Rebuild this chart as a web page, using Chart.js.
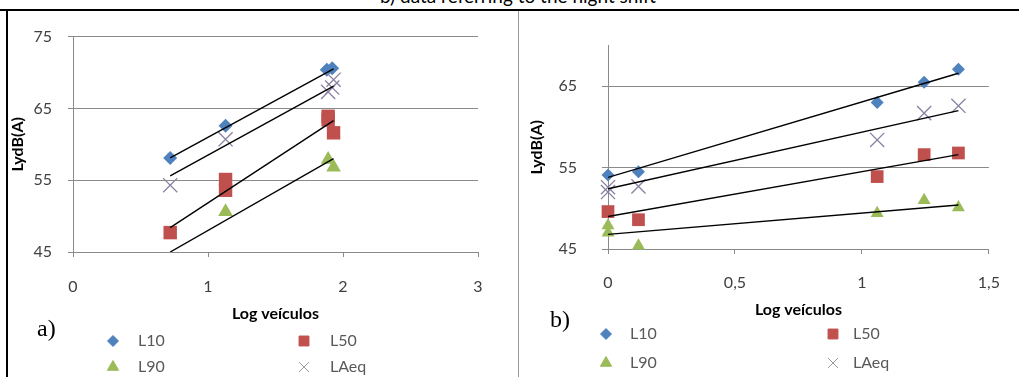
<!DOCTYPE html>
<html>
<head>
<meta charset="utf-8">
<script src="https://cdn.jsdelivr.net/npm/chart.js@4.4.0/dist/chart.umd.min.js"></script>
<style>
  body { margin: 0; background: #fff; width: 1019px; height: 377px; overflow: hidden; position: relative; font-family: Lato, sans-serif; }
  #topText { position: absolute; left: 0; width: 1036px; top: -16px; text-align: center; font-size: 19px; color: #000; font-family: Lato, sans-serif; }
  #topLine { position: absolute; left: 0; top: 9px; width: 1019px; height: 2px; background: #000; }
  #leftLine { position: absolute; left: 6px; top: 9px; width: 2px; height: 368px; background: #000; }
  #midLine { position: absolute; left: 518px; top: 11px; width: 1px; height: 366px; background: #9a9a9a; }
  canvas { position: absolute; top: 11px; }
  #chartA { left: 8px; }
  #chartB { left: 519px; }
</style>
</head>
<body>
<div id="topText">b) data referring to the night shift</div>
<div id="topLine"></div>
<div id="leftLine"></div>
<div id="midLine"></div>
<canvas id="chartA" width="510" height="366"></canvas>
<canvas id="chartB" width="500" height="366"></canvas>
<script>
// series names
const seriesNames = ['L10', 'L50', 'L90', 'LAeq'];

// ---- panel a) ----
const aL10X = [0.72, 1.13, 1.88, 1.92];
const aL10Y = [58.1, 62.6, 70.4, 70.6];
const aL50X = [0.72, 1.13, 1.13, 1.89, 1.89, 1.93];
const aL50Y = [47.7, 55.1, 53.6, 63.9, 63.4, 61.6];
const aL90X = [1.13, 1.89, 1.93];
const aL90Y = [50.6, 57.9, 56.8];
const aLeqX = [0.72, 1.13, 1.89, 1.92, 1.93];
const aLeqY = [54.3, 60.7, 67.3, 67.9, 69.0];
// trendline ends
const aTrendX = [0.72, 1.93];
const aTrendL10 = [58.1, 70.5];
const aTrendL50 = [48.4, 63.3];
const aTrendL90 = [45.0, 58.0];
const aTrendLeq = [55.6, 68.1];
const aXTicks = [0, 1, 2, 3];
const aYTicks = [45, 55, 65, 75];

// ---- panel b) ----
const bL10X = [0, 0.12, 1.06, 1.245, 1.38];
const bL10Y = [54.1, 54.5, 63.0, 65.5, 67.1];
const bL50X = [0, 0.12, 1.06, 1.245, 1.38];
const bL50Y = [49.6, 48.6, 53.9, 56.6, 56.8];
const bL90X = [0, 0, 0.12, 1.06, 1.245, 1.38];
const bL90Y = [47.9, 47.0, 45.4, 49.4, 51.0, 50.1];
const bLeqX = [0, 0, 0.12, 1.06, 1.245, 1.38];
const bLeqY = [52.6, 52.0, 52.7, 58.4, 61.7, 62.6];
const bTrendX = [0, 1.38];
const bTrendL10 = [53.8, 66.6];
const bTrendL50 = [49.0, 56.6];
const bTrendL90 = [46.8, 50.4];
const bTrendLeq = [52.4, 62.0];
const bXTicks = [0, 0.5, 1, 1.5];
const bXTickLabels = ['0', '0,5', '1', '1,5'];
const bYTicks = [45, 55, 65];

const colors = { L10: '#4f81bd', L50: '#c0504d', L90: '#9bbb59', LAeq: '#8a80a2' };
const styles = { L10: 'rectRot', L50: 'rect', L90: 'triangle', LAeq: 'crossRot' };

const zip = (xs, ys) => xs.map((x, i) => ({ x: x, y: ys[i] }));

function markerSet(name, xs, ys, radii) {
    return {
        label: name,
        data: zip(xs, ys),
        showLine: false,
        clip: false,
        pointStyle: styles[name],
        pointRadius: radii[name],
        backgroundColor: colors[name],
        borderColor: colors[name],
        pointBorderWidth: name === 'LAeq' ? 1.3 : 0,
        order: 1
    };
}

function trendSet(xs, ys) {
    return {
        label: '',
        data: zip(xs, ys),
        showLine: true,
        borderColor: '#000',
        borderWidth: 1.4,
        pointRadius: 0,
        order: 0
    };
}

// legend + "a)"/"b)" label, drawn after the chart
const extrasPlugin = {
    id: 'extras',
    afterDraw(chart, args, opts) {
        const ctx = chart.ctx;
        ctx.save();
        ctx.font = '16px Lato, sans-serif';
        ctx.textBaseline = 'middle';
        ctx.textAlign = 'left';
        opts.items.forEach(it => {
            const name = it.name;
            ctx.fillStyle = name === 'LAeq' ? '#9a9a9a' : colors[name];
            ctx.strokeStyle = name === 'LAeq' ? '#9a9a9a' : colors[name];
            ctx.lineWidth = 1;
            Chart.helpers.drawPoint(ctx, { pointStyle: styles[name], radius: it.r, rotation: 0, borderWidth: 1 }, it.mx, it.y);
            ctx.fillStyle = '#595959';
            ctx.fillText(name, it.tx, it.y);
        });
        ctx.fillStyle = '#000';
        ctx.font = '24px "Liberation Serif", serif';
        ctx.fillText(opts.panel, opts.px, opts.py);
        ctx.restore();
    }
};

function legendItems(col1, col2, txt1, txt2, row1, row2) {
    return [
        { name: 'L10', mx: col1, tx: txt1, y: row1, r: 5.5 },
        { name: 'L50', mx: col2, tx: txt2, y: row1, r: 7 },
        { name: 'L90', mx: col1, tx: txt1, y: row2, r: 6.5 },
        { name: 'LAeq', mx: col2, tx: txt2, y: row2, r: 7 }
    ];
}

const tickFont = { family: 'Lato, sans-serif', size: 16 };
const titleFont = { family: 'Lato, sans-serif', size: 16, weight: 'bold' };

function makeChart(id, cfg) {
    return new Chart(document.getElementById(id).getContext('2d'), {
        type: 'scatter',
        data: { datasets: cfg.datasets },
        options: {
            responsive: false,
            animation: false,
            devicePixelRatio: 1,
            layout: { padding: cfg.padding },
            plugins: {
                legend: { display: false },
                tooltip: { enabled: false },
                extras: cfg.extras
            },
            scales: {
                x: {
                    type: 'linear',
                    min: cfg.xMin, max: cfg.xMax,
                    afterBuildTicks: s => { s.ticks = cfg.xTicks.map(v => ({ value: v })); },
                    afterFit: s => { s.height = cfg.xHeight; },
                    ticks: {
                        font: tickFont, color: '#404040', padding: cfg.xPad, maxRotation: 0,
                        callback: (v, i) => cfg.xLabels ? cfg.xLabels[i] : String(v)
                    },
                    grid: { drawOnChartArea: false, drawTicks: true, tickLength: 5, color: '#8a8a8a' },
                    border: { color: '#8a8a8a', width: 1 },
                    title: { display: true, text: 'Log veículos', font: titleFont, color: '#000', padding: { top: 0, bottom: 0 } }
                },
                y: {
                    type: 'linear',
                    min: cfg.yMin, max: cfg.yMax,
                    afterBuildTicks: s => { s.ticks = cfg.yTicks.map(v => ({ value: v })); },
                    afterFit: s => { s.width = cfg.yWidth; },
                    ticks: { font: tickFont, color: '#404040', padding: cfg.yPad },
                    grid: { drawTicks: true, tickLength: cfg.yTickLen, color: '#8a8a8a', lineWidth: 1 },
                    border: { color: '#8a8a8a', width: 1 },
                    title: { display: true, text: 'LydB(A)', font: titleFont, color: '#000', padding: { top: cfg.yTitlePad, bottom: 0 } }
                }
            }
        },
        plugins: [extrasPlugin]
    });
}

const radiiA = { L10: 7, L50: 9.5, L90: 8.5, LAeq: 10 };
const radiiB = { L10: 6.5, L50: 9, L90: 7.5, LAeq: 10 };

makeChart('chartA', {
    datasets: [
        trendSet(aTrendX, aTrendL10), trendSet(aTrendX, aTrendLeq),
        trendSet(aTrendX, aTrendL50), trendSet(aTrendX, aTrendL90),
        markerSet('LAeq', aLeqX, aLeqY, radiiA),
        markerSet('L90', aL90X, aL90Y, radiiA),
        markerSet('L50', aL50X, aL50Y, radiiA),
        markerSet('L10', aL10X, aL10Y, radiiA)
    ],
    padding: { top: 11, right: 40, bottom: 54, left: 0 },
    xMin: 0, xMax: 3, xTicks: aXTicks, xHeight: 71, xPad: 20,
    yMin: 45, yMax: 75, yTicks: aYTicks, yWidth: 65, yPad: 16, yTickLen: 5, yTitlePad: 0,
    extras: { items: legendItems(105, 296, 130, 322, 330, 356), panel: 'a)', px: 29, py: 319 }
});

makeChart('chartB', {
    datasets: [
        trendSet(bTrendX, bTrendL10), trendSet(bTrendX, bTrendLeq),
        trendSet(bTrendX, bTrendL50), trendSet(bTrendX, bTrendL90),
        markerSet('LAeq', bLeqX, bLeqY, radiiB),
        markerSet('L90', bL90X, bL90Y, radiiB),
        markerSet('L50', bL50X, bL50Y, radiiB),
        markerSet('L10', bL10X, bL10Y, radiiB)
    ],
    padding: { top: 12, right: 17, bottom: 58, left: 0 },
    xMin: 0, xMax: 1.5, xTicks: bXTicks, xLabels: bXTickLabels, xHeight: 70, xPad: 19,
    yMin: 45, yMax: 70, yTicks: bYTicks, yWidth: 89, yPad: 25, yTickLen: 6, yTitlePad: 8,
    extras: { items: legendItems(87, 314, 111, 334, 323, 352), panel: 'b)', px: 31, py: 310 }
});
</script>
</body>
</html>
